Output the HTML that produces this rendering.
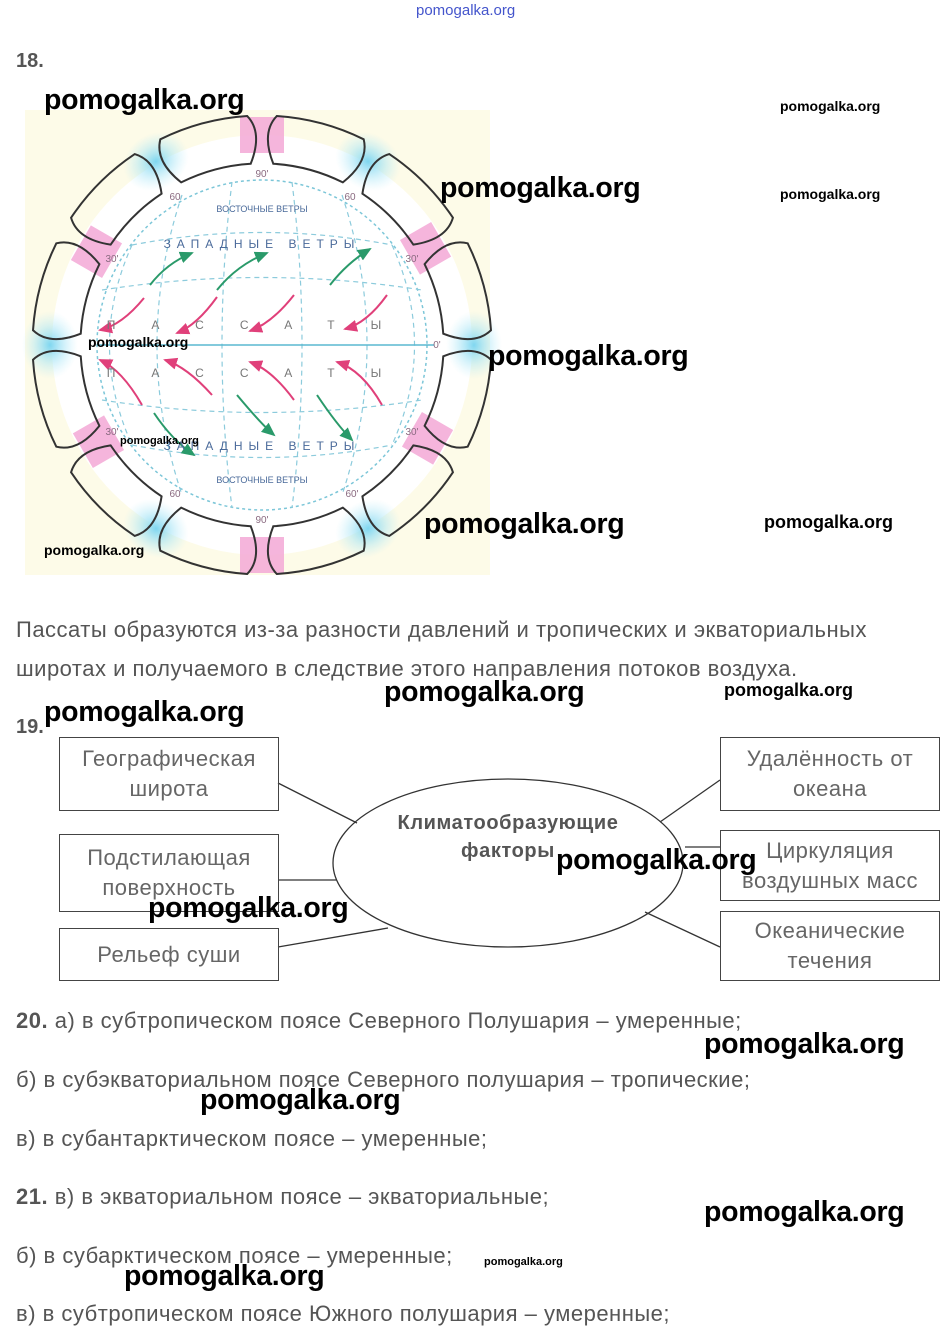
<!DOCTYPE html>
<html><head><meta charset="utf-8"><style>
body{margin:0;width:949px;height:1342px;background:#fff;position:relative;overflow:hidden;font-family:"Liberation Sans",sans-serif;}
.a{position:absolute;white-space:nowrap;}
.t{color:#555;font-size:22px;letter-spacing:0.5px;}
.w{font-weight:bold;color:#000;font-size:28.5px;letter-spacing:-0.3px}
.ws{font-weight:bold;color:#000;font-size:14px}
.box{position:absolute;border:1.5px solid #444;color:#666;font-size:22px;letter-spacing:0.5px;text-align:center;line-height:30px;box-sizing:border-box;display:flex;align-items:center;justify-content:center;}
</style></head><body>
<div class="a" style="left:416px;top:2px;font-size:15px;color:#4455cc;">pomogalka.org</div>
<div class="a" style="left:16px;top:50px;font-size:20px;font-weight:bold;color:#555;">18.</div>

<svg class="a" style="left:0;top:0" width="949" height="600" viewBox="0 0 949 600">
<defs>
<radialGradient id="bl"><stop offset="0" stop-color="#7fd6f0"/><stop offset="1" stop-color="#bfeefa" stop-opacity="0"/></radialGradient>
<marker id="ag" markerWidth="8" markerHeight="8" refX="6" refY="4" orient="auto"><path d="M0,1 L7,4 L0,7 z" fill="#2a9a6a"/></marker>
<marker id="ap" markerWidth="8" markerHeight="8" refX="6" refY="4" orient="auto"><path d="M0,1 L7,4 L0,7 z" fill="#e0407a"/></marker>
</defs>
<rect x="25" y="110" width="465" height="465" fill="#fdfbe8"/>
<circle cx="262" cy="345" r="210" fill="#fff"/>
<g transform="translate(262,345)">
 <g fill="#f4a8d6" opacity="0.85">
  <rect x="-22" y="-228" width="44" height="36" transform="rotate(0)"/>
  <rect x="-22" y="-208" width="40" height="36" transform="rotate(60)"/>
  <rect x="-22" y="-208" width="40" height="36" transform="rotate(120)"/>
  <rect x="-22" y="-228" width="44" height="36" transform="rotate(180)"/>
  <rect x="-22" y="-208" width="40" height="36" transform="rotate(240)"/>
  <rect x="-22" y="-208" width="40" height="36" transform="rotate(300)"/>
 </g>
 <g fill="url(#bl)">
  <ellipse cx="0" cy="-212" rx="34" ry="28" transform="rotate(30)"/>
  <ellipse cx="0" cy="-212" rx="34" ry="28" transform="rotate(90)"/>
  <ellipse cx="0" cy="-212" rx="34" ry="28" transform="rotate(150)"/>
  <ellipse cx="0" cy="-212" rx="34" ry="28" transform="rotate(210)"/>
  <ellipse cx="0" cy="-212" rx="34" ry="28" transform="rotate(270)"/>
  <ellipse cx="0" cy="-212" rx="34" ry="28" transform="rotate(330)"/>
 </g>
 <circle r="165" fill="none" stroke="#7cc6d8" stroke-width="1.5" stroke-dasharray="3,3"/>
 <g fill="none" stroke="#8ccbdc" stroke-width="1.2" stroke-dasharray="5,4">
  <path d="M-160,-55 Q0,-80 160,-55"/><path d="M-160,55 Q0,80 160,55"/>
  <path d="M-130,-100 Q0,-125 130,-100"/><path d="M-130,100 Q0,125 130,100"/>
  <path d="M-80,-150 Q-130,0 -80,150"/><path d="M80,-150 Q130,0 80,150"/>
  <path d="M-30,-163 Q-50,0 -30,163"/><path d="M30,-163 Q50,0 30,163"/>
  <path d="M-130,-100 Q-175,0 -130,100"/><path d="M130,-100 Q175,0 130,100"/>
 </g>
 <line x1="-165" y1="0" x2="172" y2="0" stroke="#5ab8d0" stroke-width="1.5"/>
 <g fill="none" stroke-width="2">
  <path d="M-112,-60 Q-95,-82 -70,-92" stroke="#2a9a6a" marker-end="url(#ag)"/>
  <path d="M-45,-55 Q-25,-80 5,-92" stroke="#2a9a6a" marker-end="url(#ag)"/>
  <path d="M68,-60 Q85,-82 108,-96" stroke="#2a9a6a" marker-end="url(#ag)"/>
  <path d="M-118,-47 Q-140,-20 -162,-15" stroke="#e0407a" marker-end="url(#ap)"/>
  <path d="M-45,-48 Q-65,-20 -85,-12" stroke="#e0407a" marker-end="url(#ap)"/>
  <path d="M32,-50 Q10,-22 -12,-14" stroke="#e0407a" marker-end="url(#ap)"/>
  <path d="M125,-50 Q105,-22 83,-16" stroke="#e0407a" marker-end="url(#ap)"/>
  <path d="M-120,60 Q-140,25 -162,15" stroke="#e0407a" marker-end="url(#ap)"/>
  <path d="M-50,50 Q-75,22 -97,15" stroke="#e0407a" marker-end="url(#ap)"/>
  <path d="M32,55 Q10,25 -12,17" stroke="#e0407a" marker-end="url(#ap)"/>
  <path d="M120,60 Q100,25 75,17" stroke="#e0407a" marker-end="url(#ap)"/>
  <path d="M-108,68 Q-90,95 -68,110" stroke="#2a9a6a" marker-end="url(#ag)"/>
  <path d="M-25,50 Q0,80 12,90" stroke="#2a9a6a" marker-end="url(#ag)"/>
  <path d="M55,50 Q75,80 90,95" stroke="#2a9a6a" marker-end="url(#ag)"/>
 </g>
 <g fill="#4a6a9a" font-size="12" text-anchor="middle">
  <text x="0" y="-97" letter-spacing="6">ЗАПАДНЫЕ ВЕТРЫ</text>
  <text x="0" y="-133" font-size="9">ВОСТОЧНЫЕ ВЕТРЫ</text>
  <text x="0" y="-16" letter-spacing="36" fill="#777">ПАССАТЫ</text>
  <text x="0" y="32" letter-spacing="36" fill="#777">ПАССАТЫ</text>
  <text x="0" y="105" letter-spacing="6">ЗАПАДНЫЕ ВЕТРЫ</text>
  <text x="0" y="138" font-size="9">ВОСТОЧНЫЕ ВЕТРЫ</text>
 </g>
 <g fill="#8a6a80" font-size="10" text-anchor="middle">
  <text x="0" y="-168">90'</text><text x="0" y="178">90'</text>
  <text x="-150" y="-83">30'</text><text x="150" y="-83">30'</text>
  <text x="-150" y="90">30'</text><text x="150" y="90">30'</text>
  <text x="-87" y="-145">60</text><text x="88" y="-145">60</text>
  <text x="-87" y="152">60</text><text x="90" y="152">60'</text>
  <text x="175" y="3">0'</text>
 </g>
 <g fill="none" stroke="#333" stroke-width="2">
  <g id="c"><path d="M-45,-225 A230,230 0 0 1 45,-225 Q56,-205 36,-178 A182,182 0 0 0 -36,-178 Q-56,-205 -45,-225 Z" transform="rotate(15)"/></g>
  <use href="#c" transform="rotate(30)"/><use href="#c" transform="rotate(60)"/><use href="#c" transform="rotate(90)"/>
  <use href="#c" transform="rotate(120)"/><use href="#c" transform="rotate(150)"/><use href="#c" transform="rotate(180)"/>
  <use href="#c" transform="rotate(210)"/><use href="#c" transform="rotate(240)"/><use href="#c" transform="rotate(270)"/>
  <use href="#c" transform="rotate(300)"/><use href="#c" transform="rotate(330)"/>
 </g>
</g>
</svg>

<div class="a w" style="left:44px;top:84px;">pomogalka.org</div>
<div class="a ws" style="left:780px;top:98px;">pomogalka.org</div>
<div class="a w" style="left:440px;top:172px;">pomogalka.org</div>
<div class="a ws" style="left:780px;top:186px;">pomogalka.org</div>
<div class="a ws" style="left:88px;top:334px;">pomogalka.org</div>
<div class="a w" style="left:488px;top:340px;">pomogalka.org</div>
<div class="a ws" style="left:120px;top:435px;font-size:11px">pomogalka.org</div>
<div class="a w" style="left:424px;top:508px;">pomogalka.org</div>
<div class="a ws" style="left:764px;top:512px;font-size:18px">pomogalka.org</div>
<div class="a ws" style="left:44px;top:542px;">pomogalka.org</div>

<div class="a t" style="left:16px;top:617px;">Пассаты образуются из-за разности давлений и тропических и экваториальных</div>
<div class="a t" style="left:16px;top:656px;">широтах и получаемого в следствие этого направления потоков воздуха.</div>
<div class="a w" style="left:384px;top:676px;">pomogalka.org</div>
<div class="a ws" style="left:724px;top:680px;font-size:18px">pomogalka.org</div>
<div class="a" style="left:16px;top:716px;font-size:20px;color:#555;font-weight:bold">19.</div>
<div class="a w" style="left:44px;top:696px;">pomogalka.org</div>

<svg class="a" style="left:0;top:700px" width="949" height="300">
<g stroke="#333" stroke-width="1.3" fill="none">
<ellipse cx="508" cy="163" rx="175" ry="84"/>
<line x1="278" y1="83" x2="357" y2="123"/>
<line x1="278" y1="180" x2="337" y2="180"/>
<line x1="278" y1="247" x2="388" y2="228"/>
<line x1="660" y1="122" x2="720" y2="80"/>
<line x1="685" y1="147" x2="720" y2="147"/>
<line x1="645" y1="212" x2="720" y2="247"/>
</g>
<text x="508" y="129" text-anchor="middle" font-family="Liberation Sans" font-weight="bold" font-size="20" letter-spacing="0.6" fill="#555">Климатообразующие</text>
<text x="508" y="157" text-anchor="middle" font-family="Liberation Sans" font-weight="bold" font-size="20" letter-spacing="0.6" fill="#555">факторы</text>
</svg>
<div class="box" style="left:59px;top:737px;width:220px;height:74px;">Географическая<br>широта</div>
<div class="box" style="left:59px;top:834px;width:220px;height:78px;">Подстилающая<br>поверхность</div>
<div class="box" style="left:59px;top:928px;width:220px;height:53px;">Рельеф суши</div>
<div class="box" style="left:720px;top:737px;width:220px;height:74px;">Удалённость от<br>океана</div>
<div class="box" style="left:720px;top:830px;width:220px;height:71px;">Циркуляция<br>воздушных масс</div>
<div class="box" style="left:720px;top:911px;width:220px;height:70px;">Океанические<br>течения</div>
<div class="a w" style="left:556px;top:844px;">pomogalka.org</div>
<div class="a w" style="left:148px;top:892px;">pomogalka.org</div>

<div class="a t" style="left:16px;top:1008px;"><b>20.</b> а) в субтропическом поясе Северного Полушария – умеренные;</div>
<div class="a w" style="left:704px;top:1028px;">pomogalka.org</div>
<div class="a t" style="left:16px;top:1067px;">б) в субэкваториальном поясе Северного полушария – тропические;</div>
<div class="a w" style="left:200px;top:1084px;">pomogalka.org</div>
<div class="a t" style="left:16px;top:1126px;">в) в субантарктическом поясе – умеренные;</div>
<div class="a t" style="left:16px;top:1184px;"><b>21.</b> в) в экваториальном поясе –  экваториальные;</div>
<div class="a w" style="left:704px;top:1196px;">pomogalka.org</div>
<div class="a t" style="left:16px;top:1243px;">б) в субарктическом поясе – умеренные;</div>
<div class="a ws" style="left:484px;top:1256px;font-size:11px">pomogalka.org</div>
<div class="a w" style="left:124px;top:1260px;">pomogalka.org</div>
<div class="a t" style="left:16px;top:1301px;">в) в субтропическом поясе Южного полушария – умеренные;</div>
</body></html>
